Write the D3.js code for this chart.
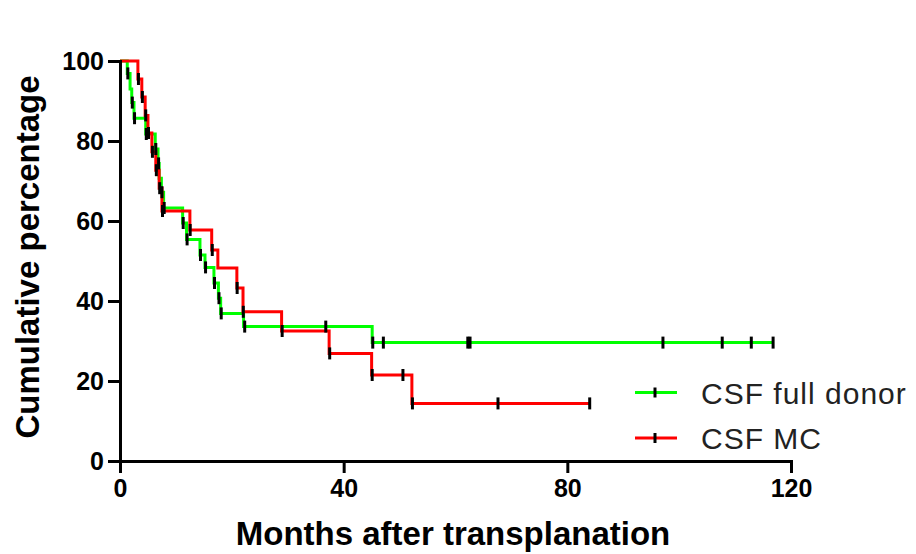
<!DOCTYPE html>
<html>
<head>
<meta charset="utf-8">
<script src="https://cdn.jsdelivr.net/npm/d3@7"></script>
<style>
  html, body { margin: 0; padding: 0; background: #fff; }
  svg { display: block; }
</style>
</head>
<body>
<svg id="chart" width="916" height="554"></svg>
<script>
// ---- data ----
const seriesNames = ["CSF full donor", "CSF MC"];
const seriesColors = ["#00ff00", "#ff0000"];

const fullDonorTimes = [0, 1.3, 1.8, 2.1, 2.5, 4.6, 6.3, 6.8, 7.0, 7.4, 7.8, 11.2, 11.9, 14.3, 15.2, 16.8, 17.6, 18.0, 22.1, 45.1, 116.8];
const fullDonorSurv  = [100, 96.9, 93.0, 89.6, 85.7, 81.75, 78.0, 74.4, 70.7, 67.2, 63.25, 59.5, 55.4, 51.5, 48.4, 44.5, 40.7, 36.9, 33.6, 29.6, 29.6];
const fullDonorCensor = [1.4, 2.2, 2.6, 4.7, 6.4, 6.9, 7.5, 7.9, 11.3, 12.0, 14.4, 15.3, 16.9, 17.7, 18.1, 22.3, 36.8, 45.2, 47.1, 62.2, 62.6, 97.1, 107.7, 112.9, 116.8];

const mcTimes = [0, 3.2, 3.9, 4.5, 5.0, 5.7, 6.4, 7.0, 7.5, 12.5, 16.4, 17.5, 20.9, 22.0, 28.9, 37.4, 45.0, 52.2, 84.0];
const mcSurv  = [100, 95.5, 91.0, 86.4, 82.0, 77.3, 72.7, 68.2, 62.5, 57.75, 52.75, 48.25, 43.25, 37.3, 32.5, 26.9, 21.5, 14.4, 14.4];
const mcCensor = [3.3, 4.0, 4.6, 5.1, 5.8, 6.5, 7.1, 7.6, 12.55, 16.5, 20.95, 22.05, 29.0, 37.5, 45.1, 50.6, 52.3, 67.6, 84.0];

const xTicks = [0, 40, 80, 120];
const yTicks = [0, 20, 40, 60, 80, 100];
const xTitle = "Months after transplanation";
const yTitle = "Cumulative percentage";

// ---- build ----
const series = [
  { name: seriesNames[0], color: seriesColors[0], times: fullDonorTimes, surv: fullDonorSurv, censor: fullDonorCensor },
  { name: seriesNames[1], color: seriesColors[1], times: mcTimes, surv: mcSurv, censor: mcCensor }
];

const svg = d3.select("#chart");
const x = d3.scaleLinear().domain([0, 120]).range([120, 791]);
const y = d3.scaleLinear().domain([0, 100]).range([461, 61]);
const font = "'Liberation Sans', Arial, Helvetica, sans-serif";

function survAt(s, t) {
  let v = s.surv[0];
  for (let i = 0; i < s.times.length; i++) { if (s.times[i] <= t) v = s.surv[i]; }
  return v;
}

const line = d3.line().x(d => x(d[0])).y(d => y(d[1])).curve(d3.curveStepAfter);

const curves = svg.append("g");
series.forEach(s => {
  const pts = s.times.map((t, i) => [t, s.surv[i]]);
  curves.append("path")
    .attr("d", line(pts))
    .attr("fill", "none")
    .attr("stroke", s.color)
    .attr("stroke-width", 3);
});

const ticksG = svg.append("g");
series.forEach(s => {
  ticksG.selectAll(null).data(s.censor).enter().append("line")
    .attr("x1", d => x(d)).attr("x2", d => x(d))
    .attr("y1", d => y(survAt(s, d)) - 6)
    .attr("y2", d => y(survAt(s, d)) + 6)
    .attr("stroke", "#000")
    .attr("stroke-width", 3);
});

// axes
const xAxis = d3.axisBottom(x).tickValues(xTicks).tickSizeOuter(0).tickSize(12).tickPadding(6).tickFormat(d3.format("d"));
const yAxis = d3.axisLeft(y).tickValues(yTicks).tickSizeOuter(0).tickSize(12).tickPadding(4).tickFormat(d3.format("d"));

const gx = svg.append("g").attr("transform", "translate(0,461)").call(xAxis);
const gy = svg.append("g").attr("transform", "translate(120,0)").call(yAxis);
[gx, gy].forEach(g => {
  g.select(".domain").attr("stroke", "#000").attr("stroke-width", 3);
  g.selectAll(".tick line").attr("stroke", "#000").attr("stroke-width", 3);
  g.selectAll(".tick text").attr("fill", "#000")
    .style("font-family", font).style("font-weight", "bold").style("font-size", "25px");
});

svg.append("text")
  .attr("x", 453).attr("y", 545)
  .attr("text-anchor", "middle")
  .style("font-family", font).style("font-weight", "bold").style("font-size", "33px")
  .attr("fill", "#000")
  .text(xTitle);

svg.append("text")
  .attr("transform", "translate(39,257) rotate(-90)")
  .attr("text-anchor", "middle")
  .style("font-family", font).style("font-weight", "bold").style("font-size", "33px")
  .attr("fill", "#000")
  .text(yTitle);

// legend
const legendY = [392.5, 438];
const lg = svg.append("g");
series.forEach((s, i) => {
  const g = lg.append("g").attr("transform", `translate(0,${legendY[i]})`);
  g.append("line").attr("x1", 635).attr("x2", 677).attr("y1", 0).attr("y2", 0)
    .attr("stroke", s.color).attr("stroke-width", 3);
  g.append("line").attr("x1", 655).attr("x2", 655).attr("y1", -5).attr("y2", 5)
    .attr("stroke", "#000").attr("stroke-width", 3);
  g.append("text").attr("x", 701).attr("y", 11)
    .style("font-family", font).style("font-size", "30px").style("letter-spacing", "1px")
    .attr("fill", "#222")
    .text(s.name);
});
</script>
</body>
</html>
